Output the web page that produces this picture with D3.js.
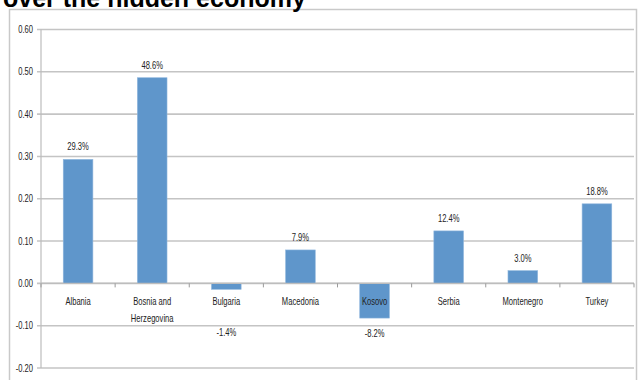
<!doctype html>
<html>
<head>
  <meta charset="utf-8">
  <script src="https://cdnjs.cloudflare.com/ajax/libs/d3/7.8.5/d3.min.js"></script>
  <style>
    body { margin: 0; background: #fff; }
    svg { display: block; }
    .lbl { font-family: "Liberation Sans", Arial, sans-serif; font-size: 10px; fill: #222; }
  </style>
</head>
<body>
  <svg id="chart" width="639" height="380"></svg>
  <script>
    // data
    var countries = ["Albania", "Bosnia and Herzegovina", "Bulgaria", "Macedonia", "Kosovo", "Serbia", "Montenegro", "Turkey"];
    var labelLines = [["Albania"], ["Bosnia and", "Herzegovina"], ["Bulgaria"], ["Macedonia"], ["Kosovo"], ["Serbia"], ["Montenegro"], ["Turkey"]];
    var shares = [0.293, 0.486, -0.014, 0.079, -0.082, 0.124, 0.030, 0.188];
    var yTicks = [-0.2, -0.1, 0, 0.1, 0.2, 0.3, 0.4, 0.5, 0.6];
    var title = "over the hidden economy";

    var squeeze = 0.76; // the source text is a narrow face
    var loc = d3.formatLocale({ decimal: ".", thousands: ",", grouping: [3], currency: ["", ""], minus: "-" });
    var fmtTick = loc.format(".2f");
    var fmtPct = loc.format(".1%");

    var svg = d3.select("#chart");

    // small narrow label at (cx, cy)
    function label(g, cx, cy, anchor, txt) {
      g.append("text")
        .attr("class", "lbl")
        .attr("transform", "translate(" + cx + "," + cy + ") scale(" + squeeze + ",1)")
        .attr("text-anchor", anchor)
        .text(txt);
    }

    // chart frame
    svg.append("rect")
      .attr("x", 9.5).attr("y", 9.5)
      .attr("width", 627).attr("height", 400)
      .attr("fill", "none")
      .attr("stroke", "#c9c9c9")
      .attr("stroke-width", 1.5);

    svg.append("text")
      .attr("x", 3).attr("y", 7)
      .style("font-family", "'Liberation Sans', Arial, sans-serif")
      .style("font-weight", "bold")
      .style("font-size", "25px")
      .attr("fill", "#000")
      .text(title);

    var x = d3.scaleBand().domain(countries).range([41, 634]).padding(0);
    var y = d3.scaleLinear().domain([-0.2, 0.6]).range([368, 29.5]);
    var barW = x.bandwidth() * 0.4;

    // gridlines
    svg.append("g")
      .selectAll("line")
      .data(yTicks)
      .enter()
      .append("line")
      .attr("x1", 37).attr("x2", 634)
      .attr("y1", d => y(d)).attr("y2", d => y(d))
      .attr("stroke", "#c4c4c4")
      .attr("stroke-width", 1.6);

    // y axis line
    svg.append("line")
      .attr("x1", 41).attr("x2", 41)
      .attr("y1", y(0.6)).attr("y2", y(-0.2))
      .attr("stroke", "#bdbdbd")
      .attr("stroke-width", 1.2);

    var yl = svg.append("g");
    yTicks.forEach(t => label(yl, 33, y(t) + 3.5, "end", fmtTick(t)));

    // bars
    svg.append("g")
      .selectAll("rect")
      .data(shares)
      .enter()
      .append("rect")
      .attr("x", (d, i) => x(countries[i]) + (x.bandwidth() - barW) / 2)
      .attr("y", d => y(Math.max(d, 0)))
      .attr("width", barW)
      .attr("height", d => Math.abs(y(d) - y(0)))
      .attr("fill", "#5f96cb")
      .attr("stroke", "#8fb6dd")
      .attr("stroke-width", 0.6);

    // x axis with ticks between categories
    svg.append("line")
      .attr("x1", 41).attr("x2", 634)
      .attr("y1", y(0)).attr("y2", y(0))
      .attr("stroke", "#bdbdbd")
      .attr("stroke-width", 1.2);

    svg.append("g")
      .selectAll("line")
      .data(countries.concat(["end"]))
      .enter()
      .append("line")
      .attr("x1", (d, i) => 41 + i * x.step())
      .attr("x2", (d, i) => 41 + i * x.step())
      .attr("y1", y(0)).attr("y2", y(0) + 4)
      .attr("stroke", "#9a9a9a")
      .attr("stroke-width", 1);

    // category labels
    var cl = svg.append("g");
    labelLines.forEach((lines, i) => {
      var cx = x(countries[i]) + x.bandwidth() / 2;
      lines.forEach((t, j) => label(cl, cx, y(0) + 22 + j * 16.6, "middle", t));
    });

    // value labels
    var vl = svg.append("g");
    shares.forEach((d, i) => {
      var cx = x(countries[i]) + x.bandwidth() / 2;
      var cy = d >= 0 ? y(d) - 9 : Math.max(y(d) + 19, y(0) + 53);
      label(vl, cx, cy, "middle", fmtPct(d));
    });
  </script>
</body>
</html>
